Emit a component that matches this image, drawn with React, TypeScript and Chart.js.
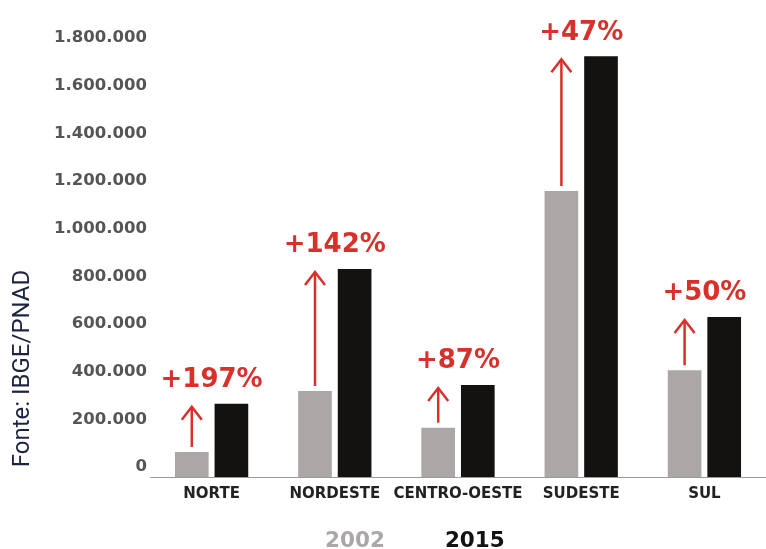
import React, { useEffect, useRef } from 'react';
import { Chart, registerables } from 'chart.js';

Chart.register(...registerables);

// ---- data ----
const categories = ['NORTE', 'NORDESTE', 'CENTRO-OESTE', 'SUDESTE', 'SUL'];
const seriesLabels = ['2002', '2015'];
const values2002 = [105000, 361000, 207000, 1200000, 448000];
const values2015 = [307000, 873000, 386000, 1765000, 671000];
const growthLabels = ['+197%', '+142%', '+87%', '+47%', '+50%'];
const yMin = 0;
const yMax = 1800000;
const yStep = 200000;
const sourceNote = 'Fonte: IBGE/PNAD';

// ---- styles ----
const GRAY = '#aba7a7';
const BLACK = '#141111';
const RED = '#d8302a';
const NAVY = '#1d2440';

const formatThousands = (v: number) =>
  String(Math.round(v)).replace(/\B(?=(\d{3})+(?!\d))/g, '.');

const annotationPlugin = {
  id: 'growthAnnotations',
  afterDatasetsDraw(chart: any) {
    const ctx = chart.ctx as CanvasRenderingContext2D;
    const m0 = chart.getDatasetMeta(0);
    const m1 = chart.getDatasetMeta(1);
    ctx.save();
    growthLabels.forEach((txt, i) => {
      const b0 = m0.data[i] as any;
      const b1 = m1.data[i] as any;
      if (!b0 || !b1) return;
      const x = b0.x;
      const yStart = b0.y - 5;
      const yTip = b1.y + 3;
      ctx.strokeStyle = RED;
      ctx.lineWidth = 2.5;
      ctx.lineJoin = 'miter';
      ctx.beginPath();
      ctx.moveTo(x, yStart);
      ctx.lineTo(x, yTip + 1);
      ctx.stroke();
      ctx.beginPath();
      ctx.moveTo(x - 10, yTip + 13);
      ctx.lineTo(x, yTip);
      ctx.lineTo(x + 10, yTip + 13);
      ctx.stroke();
      ctx.fillStyle = RED;
      ctx.font = 'bold 26px "DejaVu Sans"';
      ctx.textAlign = 'center';
      ctx.textBaseline = 'middle';
      ctx.fillText(txt, (b0.x + b1.x) / 2, b1.y - 23.5);
    });
    ctx.restore();
  },
  afterDraw(chart: any) {
    const ctx = chart.ctx as CanvasRenderingContext2D;
    ctx.save();
    ctx.translate(23, 368.5);
    ctx.rotate(-Math.PI / 2);
    ctx.fillStyle = NAVY;
    ctx.font = '24px Roboto';
    ctx.textAlign = 'center';
    ctx.textBaseline = 'middle';
    ctx.fillText(sourceNote, 0, 0);
    ctx.restore();
  },
};

export default function App() {
  const canvasRef = useRef<HTMLCanvasElement | null>(null);

  useEffect(() => {
    const canvas = canvasRef.current;
    if (!canvas) return;
    const chart = new Chart(canvas, {
      type: 'bar',
      data: {
        labels: categories,
        datasets: [
          {
            label: seriesLabels[0],
            data: values2002,
            backgroundColor: GRAY,
            borderWidth: 0,
            categoryPercentage: 0.643,
            barPercentage: 0.85,
          },
          {
            label: seriesLabels[1],
            data: values2015,
            backgroundColor: BLACK,
            borderWidth: 0,
            categoryPercentage: 0.643,
            barPercentage: 0.85,
          },
        ],
      },
      options: {
        responsive: false,
        animation: false,
        devicePixelRatio: 1,
        events: [],
        layout: {
          padding: { left: 7.8, right: -6, top: 48, bottom: -13.25 },
        },
        plugins: {
          tooltip: { enabled: false },
          legend: {
            display: true,
            position: 'bottom',
            align: 'center',
            labels: {
              boxWidth: 39.25,
              boxHeight: 0,
              padding: 10,
              font: { family: '"DejaVu Sans"', weight: 'bold', size: 21.5 },
              generateLabels: (c: any) =>
                c.data.datasets.map((ds: any, i: number) => ({
                  text: ds.label,
                  fillStyle: 'rgba(0,0,0,0)',
                  strokeStyle: 'rgba(0,0,0,0)',
                  lineWidth: 0,
                  fontColor: i === 0 ? GRAY : BLACK,
                  hidden: false,
                  datasetIndex: i,
                })),
            },
          },
        },
        scales: {
          x: {
            grid: { display: false, drawTicks: false },
            border: { display: true, color: '#9a9a9a', width: 1 },
            ticks: {
              autoSkip: false,
              maxRotation: 0,
              minRotation: 0,
              padding: 8,
              color: '#222222',
              font: { family: '"DejaVu Sans"', weight: 'bold', size: 15 },
            },
            afterFit: (scale: any) => {
              scale.height = 43.75;
            },
          },
          y: {
            min: yMin,
            max: yMax,
            grid: { display: false, drawTicks: false },
            border: { display: false },
            ticks: {
              stepSize: yStep,
              padding: 3,
              labelOffset: -10,
              color: '#555555',
              font: { family: '"DejaVu Sans"', weight: 'bold', size: 16.5 },
              callback: (v: any) => formatThousands(Number(v)),
            },
            afterFit: (scale: any) => {
              scale.width = 142.2;
            },
          },
        },
      },
      plugins: [annotationPlugin],
    });
    return () => chart.destroy();
  }, []);

  return (
    <div style={{ position: 'absolute', left: 0, top: 0, width: 766, height: 549, overflow: 'hidden', background: '#ffffff' }}>
      <canvas ref={canvasRef} width={766} height={549} style={{ display: 'block' }} />
    </div>
  );
}
